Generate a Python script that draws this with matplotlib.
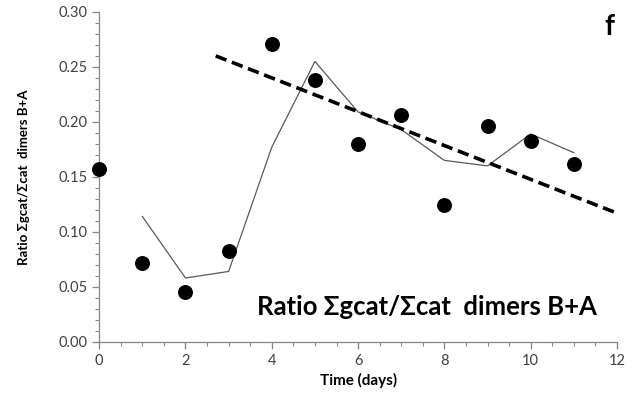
import numpy as np
import matplotlib.pyplot as plt
from matplotlib.ticker import MultipleLocator, FormatStrFormatter

plt.rcParams['font.family'] = ['Lato', 'DejaVu Sans']

# measured ratio per day
days = [0, 1, 2, 3, 4, 5, 6, 7, 8, 9, 10, 11]
ratio = [0.157, 0.072, 0.045, 0.083, 0.271, 0.238, 0.180, 0.206, 0.124, 0.196, 0.183, 0.162]

# thin line (2-point moving average as drawn)
avg_days = [1, 2, 3, 4, 5, 6, 7, 8, 9, 10, 11]
avg_ratio = [0.114, 0.058, 0.064, 0.177, 0.255, 0.209, 0.193, 0.165, 0.160, 0.189, 0.172]

# dashed trend line end points
trend_x = [2.7, 12.0]
trend_y = [0.260, 0.117]

grey = '#868686'
txt = '#404040'

fig = plt.figure(figsize=(6.4, 3.97), dpi=100)
ax = fig.add_axes([0.155, 0.139, 0.809, 0.831])

ax.plot(avg_days, avg_ratio, color='#595959', lw=0.9, zorder=2)
ax.plot(trend_x, trend_y, color='black', lw=2.6, ls=(0, (3.2, 1.6)), zorder=3)
ax.scatter(days, ratio, s=95, color='black', zorder=4, clip_on=False)

ax.set_xlim(0, 12)
ax.set_ylim(0, 0.30)
ax.xaxis.set_major_locator(MultipleLocator(2))
ax.xaxis.set_minor_locator(MultipleLocator(0.5))
ax.yaxis.set_major_locator(MultipleLocator(0.05))
ax.yaxis.set_minor_locator(MultipleLocator(0.01))
ax.yaxis.set_major_formatter(FormatStrFormatter('%.2f'))

for s in ['top', 'right']:
    ax.spines[s].set_visible(False)
for s in ['left', 'bottom']:
    ax.spines[s].set_color(grey)
    ax.spines[s].set_linewidth(0.9)

ax.tick_params(which='both', direction='out', color=grey, labelcolor=txt, labelsize=10.5)
ax.tick_params(which='major', length=5, width=0.9)
ax.tick_params(which='minor', length=3, width=0.8)

ax.set_xlabel('Time (days)', fontsize=11, fontweight='bold', color='black', labelpad=4)
ax.set_ylabel('Ratio Σgcat/Σcat  dimers B+A', fontsize=9.5, fontweight='bold', color='black', labelpad=20)

ax.text(0.962, 0.105, 'Ratio Σgcat/Σcat  dimers B+A', transform=ax.transAxes,
        ha='right', va='center', fontsize=18.5, fontweight='bold', color='black')
ax.text(0.995, 0.955, 'f', transform=ax.transAxes, ha='right', va='center',
        fontsize=20, fontweight='bold', color='black')

fig.savefig('out.png', dpi=100)
